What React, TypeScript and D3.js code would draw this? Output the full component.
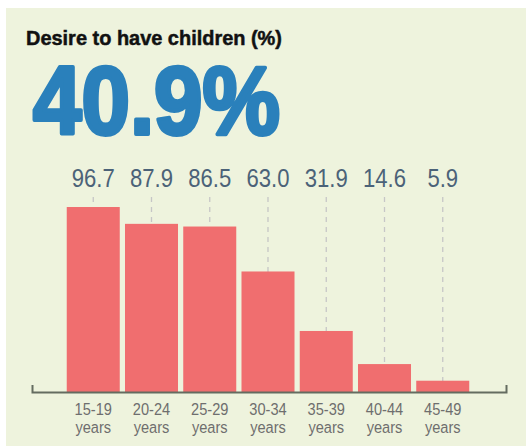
import React from "react";
import * as d3 from "d3";

const categories = ["15-19", "20-24", "25-29", "30-34", "35-39", "40-44", "45-49"];
const values = [96.7, 87.9, 86.5, 63.0, 31.9, 14.6, 5.9];
const valueLabels = ["96.7", "87.9", "86.5", "63.0", "31.9", "14.6", "5.9"];
const title = "Desire to have children (%)";
const headline = "40.9%";

const W = 526;
const H = 447;
const FONT = "'Liberation Sans', Arial, sans-serif";

export default function App() {
  const x = d3.scaleBand<string>().domain(categories).range([61.5, 474.5]).padding(0.09);
  const y = d3.scaleLinear().domain([0, 100]).range([392, 200.7]);
  const baseY = y(0);

  return (
    <svg width={W} height={H} style={{ position: "absolute", left: 0, top: 0 }}>
      <rect x={0} y={0} width={W} height={H} fill="#ffffff" />
      <rect x={6} y={8} width={W - 6} height={H - 9} fill="#eef3dd" />
      <text x={26} y={44.5} fontFamily={FONT} fontWeight="bold" fontSize={21} fill="#111"
        stroke="#111" strokeWidth={0.5}
        textLength={256} lengthAdjust="spacingAndGlyphs">{title}</text>
      <text x={33} y={134} fontFamily={FONT} fontWeight="bold" fontSize={97} fill="#2a80bb"
        stroke="#2a80bb" strokeWidth={4} strokeLinejoin="round"
        textLength={247} lengthAdjust="spacingAndGlyphs">{headline}</text>
      {categories.map((c) => {
        const cx = (x(c) as number) + x.bandwidth() / 2;
        return (
          <line key={"d" + c} x1={cx} x2={cx} y1={197} y2={baseY} stroke="#c6c6c6"
            strokeWidth={1.3} strokeDasharray="5,5" />
        );
      })}
      {categories.map((c, i) => (
        <rect key={"b" + c} x={x(c)} y={y(values[i])} width={x.bandwidth()}
          height={baseY - y(values[i]) + 1} fill="#f06e6f" />
      ))}
      {categories.map((c, i) => {
        const cx = (x(c) as number) + x.bandwidth() / 2;
        return (
          <text key={"v" + c} transform={`translate(${cx},187) scale(0.85,1)`} textAnchor="middle"
            fontFamily={FONT} fontSize={26} fill="#4b6278">{valueLabels[i]}</text>
        );
      })}
      <path d={`M32.5,385 V392.5 H506.5 V385`} fill="none" stroke="#646c60" strokeWidth={2} />
      {categories.map((c) => {
        const cx = (x(c) as number) + x.bandwidth() / 2;
        return (
          <g key={"l" + c} fontFamily={FONT} fontSize={17} fill="#6e6e6e" textAnchor="middle">
            <text transform={`translate(${cx},414.5) scale(0.86,1)`}>{c}</text>
            <text transform={`translate(${cx},433) scale(0.86,1)`}>years</text>
          </g>
        );
      })}
    </svg>
  );
}
